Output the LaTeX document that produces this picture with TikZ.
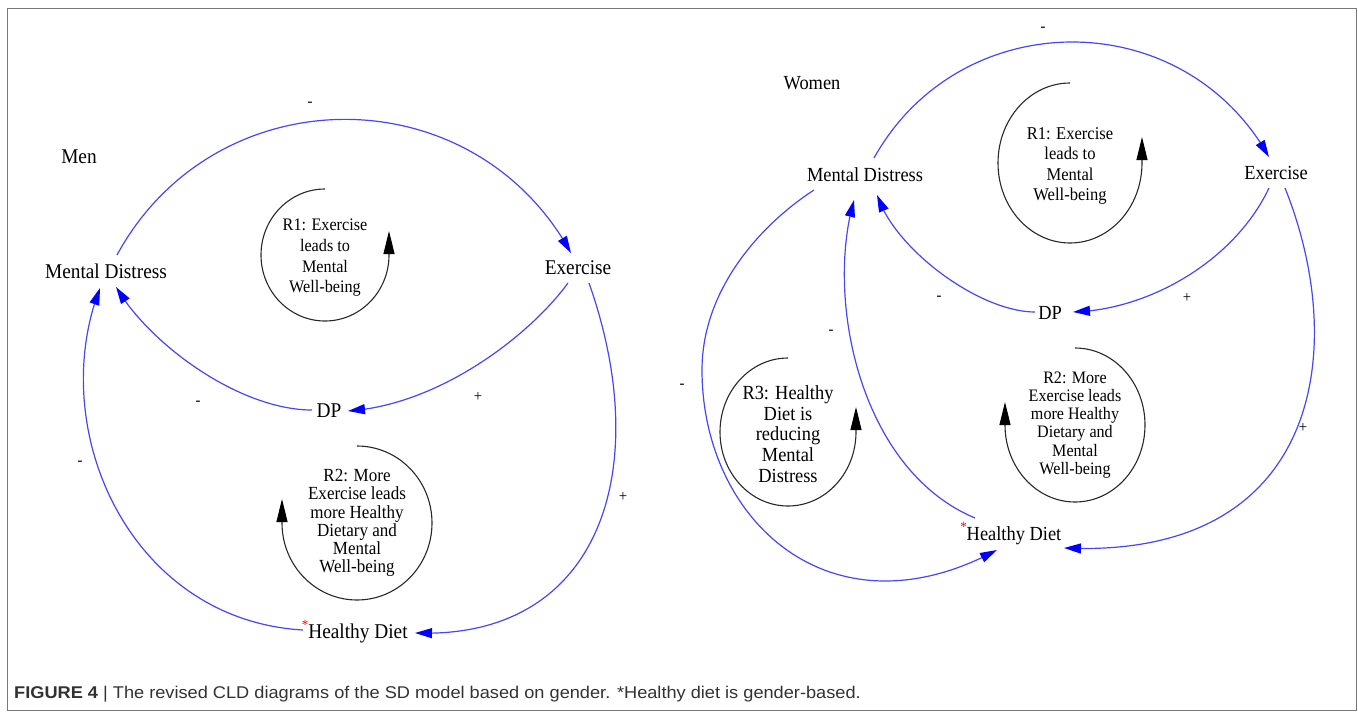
\documentclass[tikz,border=0pt]{standalone}
\usepackage{fontspec}
\setmainfont{Liberation Serif}[FakeStretch=0.92]
\newfontfamily\capfont{Liberation Sans}[FakeStretch=1.07]
\usetikzlibrary{arrows.meta,bending}

\definecolor{linkblue}{RGB}{70,70,245}
\definecolor{tipblue}{RGB}{0,0,255}
\definecolor{framegray}{RGB}{120,120,120}
\definecolor{loopgray}{RGB}{40,40,40}
\definecolor{capgray}{RGB}{50,50,50}

\newcommand{\redstar}{\llap{\raisebox{9pt}{\textcolor{red}{\fontsize{14}{14}\selectfont *}}}}

\tikzset{
  varL/.style={inner sep=0pt, font=\fontsize{21}{21}\selectfont},
  varR/.style={inner sep=0pt, font=\fontsize{20}{20}\selectfont},
  pol/.style={inner sep=0pt, font=\fontsize{16}{16}\selectfont},
  loopnote/.style={inner sep=0pt, align=center},
  link/.style={draw=linkblue, line width=1.2pt,
    -{Triangle[length=17pt,width=10pt,color=tipblue]}},
  loopline/.style={draw=loopgray, line width=1.1pt,
    -{Triangle[length=23pt,width=11pt,color=black]}},
}

\begin{document}
\begin{tikzpicture}[x=1pt,y=-1pt]
\useasboundingbox (0,0) rectangle (1358,712);
\draw[framegray, line width=1pt] (7.5,8.5) rectangle (1356.5,710.5);

% ---------------- Men ----------------
\node[varL] (men) at (79,157) {Men};
\node[varL] (mdL) at (106,271) {Mental Distress};
\node[varL] (exL) at (578,268) {Exercise};
\node[varL] (dpL) at (329,411) {DP};
\node[varL] (hdL) at (358,632) {\redstar Healthy Diet};

\node[loopnote, font=\fontsize{17.6}{20.7}\selectfont] (r1L) at (325,258)
  {R1: Exercise\\leads to\\Mental\\Well-being};
\node[loopnote, font=\fontsize{18.5}{18.2}\selectfont] (r2L) at (357,523)
  {R2: More\\Exercise leads\\more Healthy\\Dietary and\\Mental\\Well-being};

\draw[link] ([shift={(11,-16)}]mdL.center) .. controls (215,75) and (473,74) .. ([shift={(-7,-15)}]exL.center);
\draw[link] ([shift={(-10,15)}]exL.center) .. controls (530,335) and (440,405) .. ([shift={(19,0)}]dpL.center);
\draw[link] ([shift={(-17,-1)}]dpL.center) .. controls (240,410) and (150,345) .. ([shift={(10,16)}]mdL.center);
\draw[link] ([shift={(-55,-2)}]hdL.center) .. controls (130,620) and (45,430) .. ([shift={(-6,17)}]mdL.center);
\draw[link] ([shift={(11,15)}]exL.center) .. controls (655,470) and (600,640) .. ([shift={(57,1)}]hdL.center);

\node[pol] (pL1) at (310,104) {-};
\node[pol] (pL2) at (198,403) {-};
\node[pol] (pL3) at (478,397) {+};
\node[pol] (pL4) at (80,463) {-};
\node[pol] (pL5) at (623,497) {+};

\draw[loopline] ([shift={(0,-69)}]r1L.center)
  arc[start angle=-90, end angle=-360, x radius=64, y radius=66] -- ++(0,-24);
\draw[loopline] ([shift={(0,-77)}]r2L.center)
  arc[start angle=-90, end angle=180, x radius=75, y radius=77] -- ++(0,-24);

% ---------------- Women ----------------
\node[varR] (women) at (812,83) {Women};
\node[varR] (mdR) at (865,175) {Mental Distress};
\node[varR] (exR) at (1276,173) {Exercise};
\node[varR] (dpR) at (1050,313) {DP};
\node[varR] (hdR) at (1014,534) {\redstar Healthy Diet};

\node[loopnote, font=\fontsize{18}{20.6}\selectfont] (r1R) at (1070,166)
  {R1: Exercise\\leads to\\Mental\\Well-being};
\node[loopnote, font=\fontsize{17.5}{18.1}\selectfont] (r2R) at (1075,425)
  {R2: More\\Exercise leads\\more Healthy\\Dietary and\\Mental\\Well-being};
\node[loopnote, font=\fontsize{20}{20.8}\selectfont] (r3R) at (788,434)
  {R3: Healthy\\Diet is\\reducing\\Mental\\Distress};

\draw[link] ([shift={(9,-17)}]mdR.center) .. controls (960,4) and (1183,3) .. ([shift={(-7,-16)}]exR.center);
\draw[link] ([shift={(-7,15)}]exR.center) .. controls (1235,260) and (1150,310) .. ([shift={(23,-1)}]dpR.center);
\draw[link] ([shift={(-15,-1)}]dpR.center) .. controls (980,312) and (895,250) .. ([shift={(12,20)}]mdR.center);
\draw[link] ([shift={(-39,-16)}]hdR.center) .. controls (860,470) and (825,300) .. ([shift={(-11,25)}]mdR.center);
\draw[link] ([shift={(-51,15)}]mdR.center) .. controls (760,225) and (702,290) .. (702,370)
  .. controls (702,520) and (830,640) .. ([shift={(-17,16)}]hdR.center);
\draw[link] ([shift={(9,15)}]exR.center) .. controls (1350,350) and (1320,560) .. ([shift={(50,14)}]hdR.center);

\node[pol] (pR1) at (1043,29) {-};
\node[pol] (pR2) at (939,298) {-};
\node[pol] (pR3) at (1187,298) {+};
\node[pol] (pR4) at (831,332) {-};
\node[pol] (pR5) at (682,386) {-};
\node[pol] (pR6) at (1303,428) {+};

\draw[loopline] ([shift={(0,-83)}]r1R.center)
  arc[start angle=-90, end angle=-360, x radius=72, y radius=80] -- ++(0,-26);
\draw[loopline] ([shift={(0,-77)}]r2R.center)
  arc[start angle=-90, end angle=180, x radius=70, y radius=77] -- ++(0,-23);
\draw[loopline] ([shift={(0,-76)}]r3R.center)
  arc[start angle=-90, end angle=-360, x radius=68, y radius=74] -- ++(0,-25);

% ---------------- caption ----------------
\node[anchor=west, inner sep=0pt, text=capgray, font=\capfont\fontsize{17}{17}\selectfont] (cap) at (14,694)
  {\textbf{FIGURE 4} | The revised CLD diagrams of the SD model based on gender. *Healthy diet is gender-based.};
\end{tikzpicture}
\end{document}
